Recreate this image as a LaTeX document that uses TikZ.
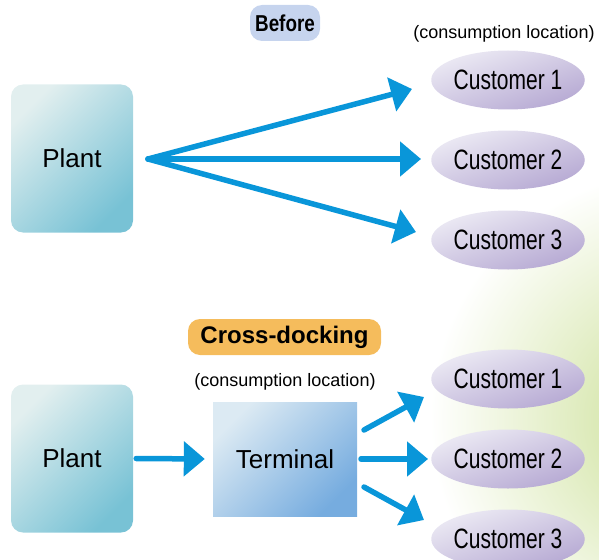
\documentclass[tikz,border=0pt]{standalone}
\usepackage{fontspec}
\usepackage{graphicx}
\setmainfont{Liberation Sans}
\usetikzlibrary{shapes.geometric,arrows.meta}
\definecolor{arrowblue}{HTML}{0996D9}
\definecolor{plantlight}{HTML}{E2EFEF}
\definecolor{plantdark}{HTML}{78C2D5}
\definecolor{termlight}{HTML}{DCEAF3}
\definecolor{termdark}{HTML}{76ACDF}
\definecolor{custlight}{HTML}{ECEAF4}
\definecolor{custdark}{HTML}{B6A9D3}
\definecolor{beforefill}{HTML}{C6D4EE}
\definecolor{crossfill}{HTML}{F5BC5C}
\definecolor{leafgreen}{HTML}{CADF94}
\newcommand{\cond}[2]{\scalebox{#1}[1]{#2}}
\begin{document}
\begin{tikzpicture}[x=1pt,y=-1pt,
  plantbox/.style={rounded corners=12pt, minimum width=122pt, minimum height=148pt,
    top color=plantlight, bottom color=plantdark, shading angle=45, inner sep=0pt,
    font=\fontsize{26}{30}\selectfont},
  termbox/.style={rectangle, minimum width=144pt, minimum height=114pt,
    top color=termlight, bottom color=termdark, shading angle=45, inner sep=0pt,
    font=\fontsize{26}{30}\selectfont},
  cust/.style={ellipse, minimum width=152pt, minimum height=59pt, inner sep=0pt,
    left color=custlight, right color=custdark, shading angle=20,
    font=\fontsize{28}{32}\selectfont},
  tag/.style={rounded corners=12pt, minimum height=36pt, inner sep=0pt},
  note/.style={font=\fontsize{18}{21}\selectfont, inner sep=0pt},
  conn/.style={draw=arrowblue, line width=5.5pt, line cap=round,
    -{Triangle[length=21pt 0,width=34pt 0]}}
]
\useasboundingbox (0,0) rectangle (599,559);
\begin{scope}
  \clip (0,0) rectangle (599,559);
  \shade[inner color=leafgreen, outer color=white] (680,420) circle (250);
\end{scope}

% ---- Before ----
\node[tag, fill=beforefill, minimum width=70pt] (before) at (285,23)
  {\fontsize{23}{26}\selectfont\bfseries\cond{0.82}{Before}};
\node[note] (consA) at (504,34) {(consumption location)};
\node[plantbox] (plantA) at (72,158.5) {Plant};
\node[cust] (cA1) at (508,80) {\cond{0.75}{Customer 1}};
\node[cust] (cA2) at (508,160) {\cond{0.75}{Customer 2}};
\node[cust] (cA3) at (508,240) {\cond{0.75}{Customer 3}};
\coordinate (src) at (148,159);
\coordinate (tA1) at (412,89);
\coordinate (tA2) at (421,159);
\coordinate (tA3) at (416,232);
\draw[conn] (src) -- (tA1);
\draw[conn] (src) -- (tA2);
\draw[conn] (src) -- (tA3);

% ---- Cross-docking ----
\node[tag, fill=crossfill, minimum width=193pt] (cross) at (284.5,337)
  {\fontsize{24}{27}\selectfont\bfseries Cross-docking};
\node[note] (consB) at (285,382) {(consumption location)};
\node[plantbox] (plantB) at (72,458.5) {Plant};
\node[termbox] (term) at (285,459) {Terminal};
\node[cust] (cB1) at (508,379) {\cond{0.75}{Customer 1}};
\node[cust] (cB2) at (508,459) {\cond{0.75}{Customer 2}};
\node[cust] (cB3) at (508,539) {\cond{0.75}{Customer 3}};
\draw[conn, shorten <=3pt, shorten >=8pt] (plantB.east) -- (term.west);
\coordinate (oB1) at (364,430);
\coordinate (eB1) at (424,397);
\coordinate (oB2) at (361,459);
\coordinate (eB2) at (428,459);
\coordinate (oB3) at (364,487);
\coordinate (eB3) at (424,520);
\draw[conn] (oB1) -- (eB1);
\draw[conn] (oB2) -- (eB2);
\draw[conn] (oB3) -- (eB3);
\end{tikzpicture}
\end{document}
